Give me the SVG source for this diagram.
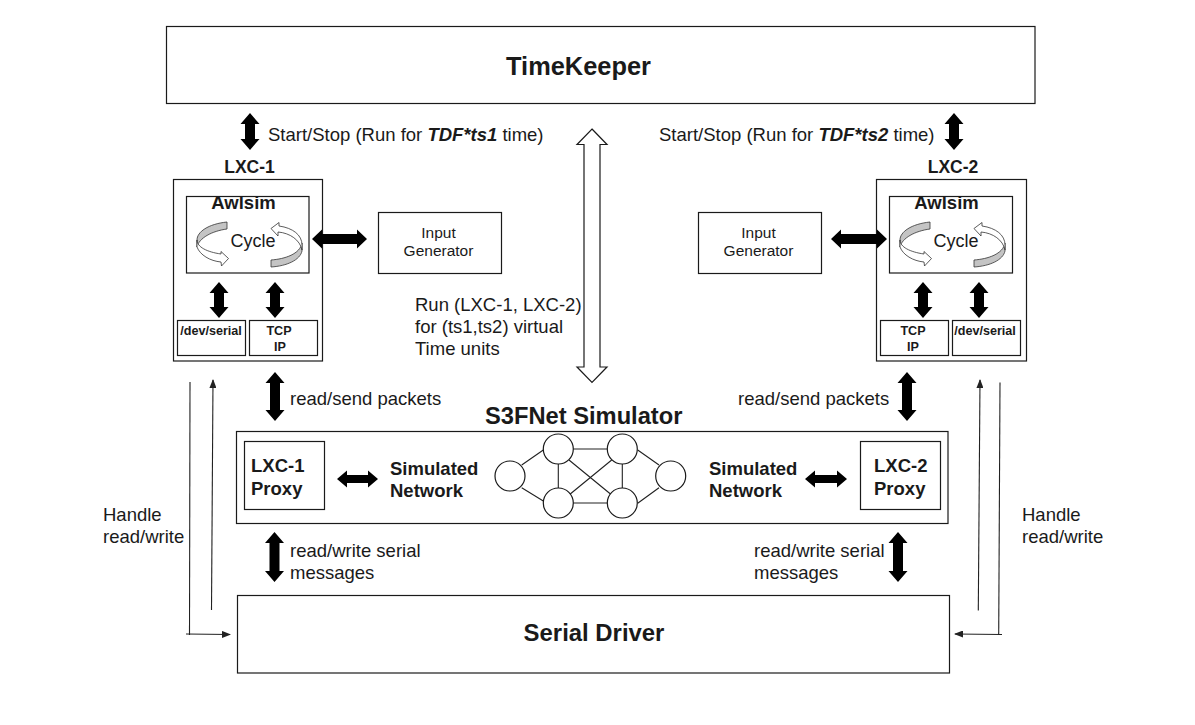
<svg xmlns="http://www.w3.org/2000/svg" width="1195" height="725" viewBox="0 0 1195 725">
<style>
text{font-family:"Liberation Sans",Arial,sans-serif;fill:#1a1a1a}
.box{fill:#fff;stroke:#1a1a1a;stroke-width:1.2}
.t{font-size:18.500px}
.g{font-size:15.500px}
.h{font-size:18.500px}
.s{font-size:12.600px}
.b{font-weight:bold}
.m{text-anchor:middle}
.arrow{fill:#000;stroke:none}
.hollow{fill:#fff;stroke:#1a1a1a;stroke-width:1.2}
.thin{fill:none;stroke:#222;stroke-width:1.1}
.cg{fill:#c4c4c4;stroke:#333;stroke-width:.8}
.cw{fill:#fff;stroke:#333;stroke-width:.8}
.n{fill:#fff;stroke:#1a1a1a;stroke-width:1.2}
</style>
<defs>
<marker id="tip" markerWidth="9" markerHeight="7" refX="8" refY="3.500" orient="auto" markerUnits="userSpaceOnUse"><path d="M0,0L9,3.500L0,7Z" fill="#222"/></marker>
<g id="cycle">
<path class="cg" d="M227,222C208,224 197,232 197,240L197,247C199,238 212,231 227,229Z"/>
<path class="cw" d="M197,240C197,247 207,252 221,254L221,251.500L228.500,258.500L221.500,266L221,262C210,261 200,255 197,247Z"/>
<path class="cg" d="M271,260C285,259 300,254 302,243L302,251C300,260 287,266 271,267Z"/>
<path class="cw" d="M271,228.500L279,222.500L279,226C293,228 302,235 302,245L302,250C300,240 290,233 278,232L278,236Z"/>
</g>
</defs>

<g id="timekeeper"><rect class="box" x="166.500" y="26.500" width="868.500" height="77"/><text class="b m" x="578.500" y="75" font-size="25.400">TimeKeeper</text></g>

<g id="lxc1">
<text class="b m" x="249.500" y="172.500" font-size="17.500">LXC-1</text>
<rect class="box" x="173.500" y="179.500" width="149" height="181.500"/>
</g>
<g id="awlsim1">
<rect class="box" x="186.500" y="196.500" width="122.500" height="76.500"/>
<text class="b m h" x="243.500" y="208.500">Awlsim</text>
<use href="#cycle"/>
<text class="m" x="253" y="246.500" font-size="18">Cycle</text>
</g>
<g id="devserial1"><rect class="box" x="177.500" y="320.500" width="68" height="35"/><text class="b m s" x="211" y="335">/dev/serial</text></g>
<g id="tcp1"><rect class="box" x="249.500" y="320.500" width="68" height="35"/><text class="b m s" x="279" y="335">TCP</text><text class="b m s" x="280" y="351">IP</text></g>
<g id="input1"><rect class="box" x="378.500" y="212.500" width="123" height="61"/><text class="g m" x="438.500" y="237.500">Input</text><text class="g m" x="438.500" y="256">Generator</text></g>

<g id="lxc2">
<text class="b m" x="953" y="172.500" font-size="17.500">LXC-2</text>
<rect class="box" x="876.500" y="179.500" width="150" height="181.500"/>
</g>
<g id="awlsim2">
<rect class="box" x="889.500" y="196.500" width="123" height="76.500"/>
<text class="b m h" x="946.500" y="208.500">Awlsim</text>
<use href="#cycle" x="703"/>
<text class="m" x="956" y="246.500" font-size="18">Cycle</text>
</g>
<g id="tcp2"><rect class="box" x="880.500" y="320.500" width="68" height="35"/><text class="b m s" x="913" y="335">TCP</text><text class="b m s" x="913" y="351">IP</text></g>
<g id="devserial2"><rect class="box" x="952.500" y="320.500" width="68" height="35"/><text class="b m s" x="985" y="335">/dev/serial</text></g>
<g id="input2"><rect class="box" x="698.500" y="212.500" width="123" height="61"/><text class="g m" x="758.500" y="237.500">Input</text><text class="g m" x="758.500" y="256">Generator</text></g>

<g id="s3fnet">
<text class="b" x="485" y="423.500" font-size="23.700">S3FNet Simulator</text>
<rect class="box" x="236.500" y="431.500" width="711.500" height="92"/>
<text class="b h" x="390" y="474.500">Simulated</text>
<text class="b h" x="390" y="496.500">Network</text>
<text class="b h" x="709" y="474.500">Simulated</text>
<text class="b h" x="709" y="496.500">Network</text>
</g>
<g id="proxy1"><rect class="box" x="244.500" y="441.500" width="80" height="68"/><text class="b h" x="251" y="471.500">LXC-1</text><text class="b h" x="251" y="494.500">Proxy</text></g>
<g id="proxy2"><rect class="box" x="860.500" y="441.500" width="80" height="68"/><text class="b h" x="874" y="471.500">LXC-2</text><text class="b h" x="874" y="494.500">Proxy</text></g>

<g id="network">
<path class="thin" d="M521.700,465L543.300,450M521.700,487.700L543.300,501M573,449H607M573,503H607M637.700,450L659,465M659,487.700L637.700,503.300M558.300,464V488M622.300,464V488M569,460L611.700,495M611.700,460L569,495"/>
<circle class="n" cx="510" cy="476" r="15"/><circle class="n" cx="558.300" cy="449" r="15"/><circle class="n" cx="622.300" cy="449" r="15"/><circle class="n" cx="670.700" cy="476" r="15"/><circle class="n" cx="558.300" cy="503" r="15"/><circle class="n" cx="622.300" cy="503" r="15"/>
</g>

<g id="serial"><rect class="box" x="237.500" y="595.500" width="712" height="77.500"/><text class="b m" x="594" y="640.500" font-size="23.900">Serial Driver</text></g>

<g id="connectors">
<path class="arrow" d="M250,113L259.500,124H255V139H259.500L250,150L240.500,139H245V124H240.500Z"/>
<path class="arrow" d="M954,113L963.500,124H959V139H963.500L954,150L944.500,139H949V124H944.500Z"/>
<path class="arrow" d="M219,282L228.500,293H224V307H228.500L219,318L209.500,307H214V293H209.500Z"/>
<path class="arrow" d="M275,282L284.500,293H280V307H284.500L275,318L265.500,307H270V293H265.500Z"/>
<path class="arrow" d="M923,282L932.500,293H928V307H932.500L923,318L913.500,307H918V293H913.500Z"/>
<path class="arrow" d="M979,282L988.500,293H984V307H988.500L979,318L969.500,307H974V293H969.500Z"/>
<path class="arrow" d="M275,372L284.500,383H280V410H284.500L275,421L265.500,410H270V383H265.500Z"/>
<path class="arrow" d="M907,372L916.500,383H912V410H916.500L907,421L897.500,410H902V383H897.500Z"/>
<path class="arrow" d="M274.500,532L284,543H279.500V571H284L274.500,582L265,571H269.500V543H265Z"/>
<path class="arrow" d="M898,532L907.500,543H903V571H907.500L898,582L888.500,571H893V543H888.500Z"/>
<path class="arrow" d="M312,239L322,229.500V234H357V229.500L367,239L357,248.500V244H322V248.500Z"/>
<path class="arrow" d="M831,239L841,229.500V234H877V229.500L887,239L877,248.500V244H841V248.500Z"/>
<path class="arrow" d="M337,479L347,470.500V475H368V470.500L378,479L368,487.500V483H347V487.500Z"/>
<path class="arrow" d="M805,479L815,470.500V475H837V470.500L847,479L837,487.500V483H815V487.500Z"/>
<path class="hollow" d="M592,129L607,144.500H600V367H607L592,382.500L577,367H584V144.500H577Z"/>
<path class="thin" d="M190,382L189.500,635"/>
<path class="thin" d="M186,634L230,634.500" marker-end="url(#tip)"/>
<path class="thin" d="M211.500,610L213,380" marker-end="url(#tip)"/>
<path class="thin" d="M1000,382.500L998.700,635"/>
<path class="thin" d="M1002,634.500L955,634" marker-end="url(#tip)"/>
<path class="thin" d="M978.300,610.500L980,380" marker-end="url(#tip)"/>
</g>

<g id="labels">
<text class="t" x="268" y="140.500">Start/Stop (Run for <tspan font-weight="bold" font-style="italic">TDF*ts1</tspan> time)</text>
<text class="t" x="659" y="140.500">Start/Stop (Run for <tspan font-weight="bold" font-style="italic">TDF*ts2</tspan> time)</text>
<text class="t" x="415" y="310.500">Run (LXC-1, LXC-2)</text>
<text class="t" x="415" y="332.500">for (ts1,ts2) virtual</text>
<text class="t" x="415" y="354.500">Time units</text>
<text class="t" x="290" y="404.500">read/send packets</text>
<text class="t" x="738" y="404.500">read/send packets</text>
<text class="t" x="290" y="556.500">read/write serial</text>
<text class="t" x="290" y="578.500">messages</text>
<text class="t" x="754" y="556.500">read/write serial</text>
<text class="t" x="754" y="578.500">messages</text>
<text class="t" x="103" y="520.500">Handle</text>
<text class="t" x="103" y="542.500">read/write</text>
<text class="t" x="1022" y="520.500">Handle</text>
<text class="t" x="1022" y="542.500">read/write</text>
</g>
</svg>
